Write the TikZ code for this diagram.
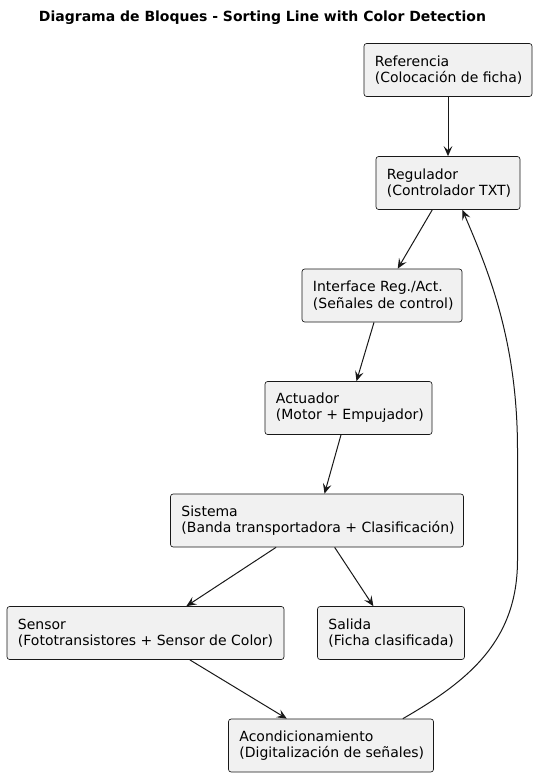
\documentclass[tikz,border=0pt]{standalone}
\usepackage{fontspec}
\setmainfont{DejaVu Sans}
\usetikzlibrary{arrows.meta,calc}
\definecolor{boxfill}{HTML}{F1F1F1}
\definecolor{ink}{HTML}{181818}
\begin{document}
\begin{tikzpicture}[x=0.75pt,y=-0.75pt,
  blk/.style={draw=ink, fill=boxfill, line width=0.5pt, rounded corners=2pt,
    minimum height=53*0.75pt, inner sep=0pt},
  txt/.style={anchor=west, align=left, inner sep=0pt,
    font=\fontsize{10.5pt}{12.2pt}\selectfont, text=black},
  conn/.style={draw=ink, line width=0.75pt, -{Stealth[length=7.5pt,width=6.5pt,inset=3pt]}},
  ttl/.style={font=\bfseries\fontsize{10.5pt}{12.2pt}\selectfont, text=black}]
\useasboundingbox (0,0) rectangle (536,777);
\node[ttl] (title) at (262.5,18) {Diagrama de Bloques - Sorting Line with Color Detection};
\node[blk, minimum width=168*0.75pt] (ref) at (448,70) {};
\node[blk, minimum width=144*0.75pt] (reg) at (448,183) {};
\node[blk, minimum width=160*0.75pt] (intf) at (382,295.5) {};
\node[blk, minimum width=167*0.75pt] (act) at (348.5,408) {};
\node[blk, minimum width=293*0.75pt] (sis) at (317,520.5) {};
\node[blk, minimum width=277*0.75pt] (sen) at (145.5,633) {};
\node[blk, minimum width=147*0.75pt] (sal) at (391,633) {};
\node[blk, minimum width=205*0.75pt] (aco) at (331,745.5) {};
\node[txt] (refT) at ($(ref.west)+(11,0)$) {Referencia\\(Colocación de ficha)};
\node[txt] (regT) at ($(reg.west)+(11,0)$) {Regulador\\(Controlador TXT)};
\node[txt] (intfT) at ($(intf.west)+(11,0)$) {Interface Reg./Act.\\(Señales de control)};
\node[txt] (actT) at ($(act.west)+(11,0)$) {Actuador\\(Motor + Empujador)};
\node[txt] (sisT) at ($(sis.west)+(11,0)$) {Sistema\\(Banda transportadora + Clasificación)};
\node[txt] (senT) at ($(sen.west)+(11,0)$) {Sensor\\(Fototransistores + Sensor de Color)};
\node[txt] (salT) at ($(sal.west)+(11,0)$) {Salida\\(Ficha clasificada)};
\node[txt] (acoT) at ($(aco.west)+(11,0)$) {Acondicionamiento\\(Digitalización de señales)};
\draw[conn] (ref) -- (reg);
\draw[conn] (reg) -- (intf);
\draw[conn] (intf) -- (act);
\draw[conn] (act) -- (sis);
\draw[conn] (sis) -- (sen);
\draw[conn] (sis) -- (sal);
\draw[conn] (sen) -- (aco);
\coordinate (fbA) at ($(aco.north east)+(-31,0)$);
\coordinate (fbB) at ($(reg.south east)+(-58,0)$);
\coordinate (fb1) at (517.5,560);
\coordinate (fb2) at (517.5,450);
\draw[conn] (fbA) .. controls (470,680) and (517.5,640) .. (fb1) -- (fb2)
  .. controls (517.5,340) and (488,270) .. (fbB);
\end{tikzpicture}
\end{document}
